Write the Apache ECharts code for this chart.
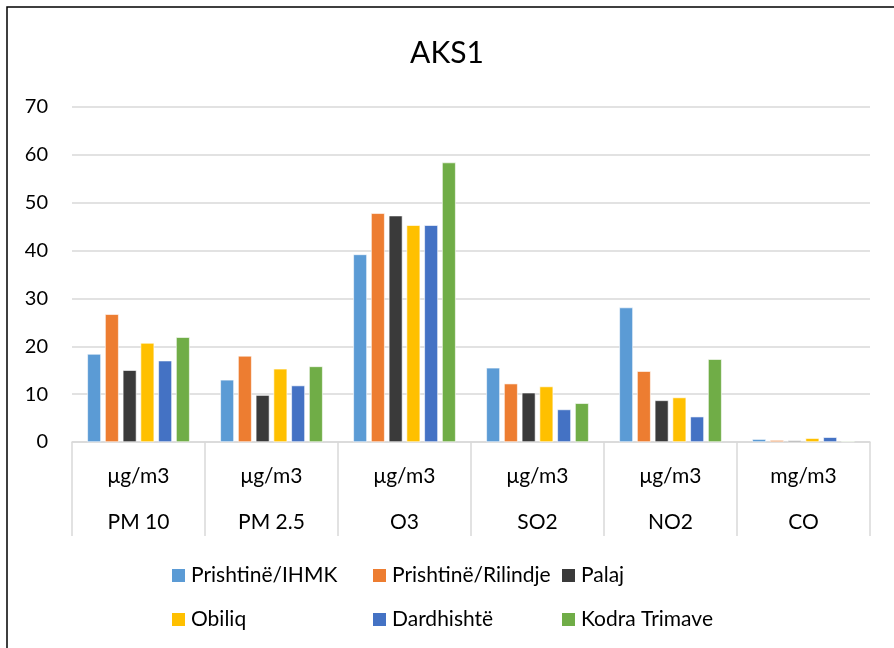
<!DOCTYPE html>
<html>
<head>
<meta charset="utf-8">
<script src="https://cdn.jsdelivr.net/npm/echarts@6/dist/echarts.min.js"></script>
<style>
html,body{margin:0;padding:0;background:#fff;}
#c{width:894px;height:648px;}
</style>
</head>
<body>
<div id="c"></div>
<script>
const titleText = 'AKS1';
const pollutants = ['PM 10', 'PM 2.5', 'O3', 'SO2', 'NO2', 'CO'];
const units = ['μg/m3', 'μg/m3', 'μg/m3', 'μg/m3', 'μg/m3', 'mg/m3'];
const seriesNames = ['Prishtinë/IHMK', 'Prishtinë/Rilindje', 'Palaj', 'Obiliq', 'Dardhishtë', 'Kodra Trimave'];
const ihmk      = [18.4, 13.0, 39.2, 15.5, 28.1, 0.6];
const rilindje  = [26.7, 18.0, 47.8, 12.2, 14.8, 0.4];
const palaj     = [15.0,  9.8, 47.3, 10.3,  8.7, 0.3];
const obiliq    = [20.7, 15.3, 45.3, 11.6,  9.3, 0.8];
const dardhishte= [17.0, 11.8, 45.3,  6.8,  5.3, 1.0];
const kodra     = [21.9, 15.8, 58.4,  8.1, 17.3, 0.2];
const yTicks = [0, 10, 20, 30, 40, 50, 60, 70];

const seriesData = [ihmk, rilindje, palaj, obiliq, dardhishte, kodra];
const colors = ['#5b9bd5', '#ed7d31', '#3a3a3a', '#ffc000', '#4472c4', '#70ad47'];
const FONT = 'Lato, "Open Sans", sans-serif';

const categories = pollutants.map((p, i) => units[i] + '\n' + p);

const legendPos = [
  {left: 165, top: 560}, {left: 366, top: 560}, {left: 555, top: 560},
  {left: 165, top: 604}, {left: 366, top: 604}, {left: 555, top: 604}
];

const chart = echarts.init(document.getElementById('c'), null, {renderer: 'canvas'});
chart.setOption({
  backgroundColor: '#fff',
  animation: false,
  color: colors,
  title: {
    text: titleText,
    left: 'center',
    top: 33,
    textStyle: {fontFamily: FONT, fontSize: 30, fontWeight: 'normal', color: '#000'}
  },
  graphic: [{
    type: 'rect',
    shape: {x: 7, y: 7, width: 950, height: 700},
    style: {fill: 'none', stroke: '#000', lineWidth: 1.5},
    silent: true
  }],
  legend: seriesNames.map((n, i) => ({
    data: [n],
    left: legendPos[i].left,
    top: legendPos[i].top,
    itemWidth: 15,
    itemHeight: 15,
    itemGap: 4,
    icon: 'rect',
    textStyle: {fontFamily: FONT, fontSize: 21, color: '#000'}
  })),
  grid: {left: 72, right: 24, top: 107, bottom: 206, containLabel: false},
  xAxis: {
    type: 'category',
    data: categories,
    axisLine: {lineStyle: {color: '#d9d9d9', width: 1.5}},
    axisTick: {show: true, length: 94, lineStyle: {color: '#d9d9d9', width: 1.5}},
    axisLabel: {
      interval: 0,
      margin: 11,
      fontFamily: FONT,
      fontSize: 21,
      color: '#000',
      lineHeight: 46
    },
    splitLine: {show: false}
  },
  yAxis: {
    type: 'value',
    min: yTicks[0],
    max: yTicks[yTicks.length - 1],
    interval: 10,
    axisLine: {show: false},
    axisTick: {show: false},
    axisLabel: {fontFamily: FONT, fontSize: 20, color: '#000', margin: 24},
    splitLine: {lineStyle: {color: '#d9d9d9', width: 1.5}}
  },
  series: seriesNames.map((n, i) => ({
    name: n,
    type: 'bar',
    data: seriesData[i],
    barGap: '30%',
    barCategoryGap: '23%',
    itemStyle: {color: colors[i], borderColor: '#ffffff', borderWidth: 0.6}
  }))
});
</script>
</body>
</html>
